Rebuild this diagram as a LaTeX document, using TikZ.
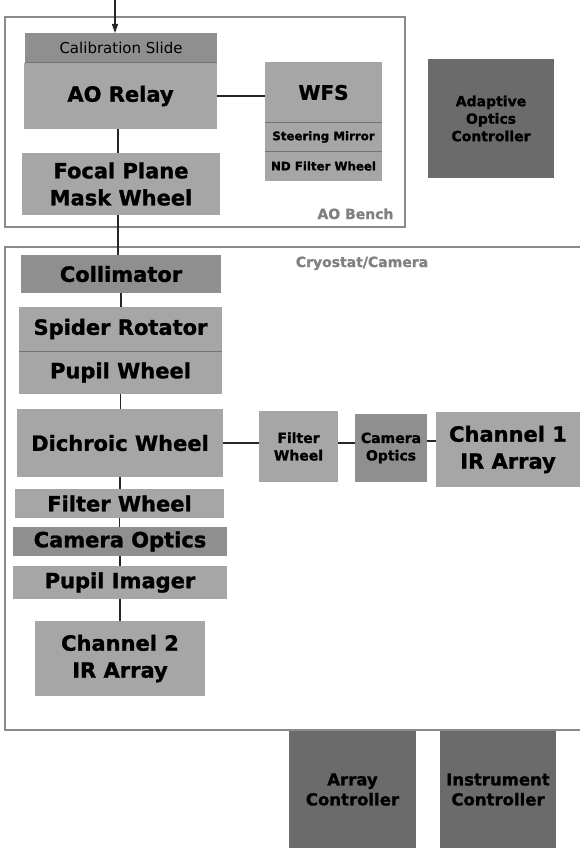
\documentclass[tikz,border=0pt]{standalone}
\usepackage{fontspec}
\setmainfont{DejaVu Sans}[BoldFeatures={FakeBold=1.2}]
\usetikzlibrary{arrows.meta, positioning, calc}
\definecolor{boxlt}{HTML}{A6A6A6}
\definecolor{boxmd}{HTML}{8F8F8F}
\definecolor{boxdk}{HTML}{6B6B6B}
\definecolor{framegray}{HTML}{8A8A8A}

\begin{document}
\begin{tikzpicture}[x=1pt, y=-1pt, >={Triangle[length=9pt,width=6pt]},
  bx/.style={inner sep=0pt, outer sep=0pt, align=center, text=black},
  lt/.style={bx, fill=boxlt},
  md/.style={bx, fill=boxmd},
  dk/.style={bx, fill=boxdk},
  bigtxt/.style={font=\fontsize{21}{27}\selectfont\bfseries},
  midtxt/.style={font=\fontsize{14}{17.5}\selectfont\bfseries},
  smtxt/.style={font=\fontsize{11.8}{14}\selectfont\bfseries},
  grtxt/.style={font=\fontsize{14}{17}\selectfont\bfseries, text=black!50},
  link/.style={draw=black!85, line width=1.5pt},
  frm/.style={draw=framegray, line width=1.8pt},
  sepline/.style={draw=black!55, line width=1pt}]
  \useasboundingbox (0,0) rectangle (580,848);

  % AO bench
  \draw[frm] (5,17) rectangle (405,227);
  \node[md, minimum width=192pt, minimum height=30pt,
    font=\fontsize{15}{18}\selectfont] (cal) at (121,48) {Calibration Slide};
  \node[lt, bigtxt, minimum width=193pt, minimum height=66pt] (relay) at (120.5,96) {AO Relay};
  \node[lt, bigtxt, minimum width=198pt, minimum height=62pt] (fpm) at (121,184) {Focal Plane\\Mask Wheel};
  \node[lt, font=\fontsize{20}{24}\selectfont\bfseries, minimum width=117pt, minimum height=61pt] (wfs) at (323.5,92.5) {WFS};
  \node[lt, smtxt, minimum width=117pt, minimum height=28pt] (steer) at (323.5,137) {Steering Mirror};
  \node[lt, smtxt, minimum width=117pt, minimum height=30pt] (ndfw) at (323.5,166) {ND Filter Wheel};
  \draw[sepline] (cal.south west) -- (cal.south east);
  \draw[sepline] (wfs.south west) -- (wfs.south east);
  \draw[sepline] (steer.south west) -- (steer.south east);
  \node[grtxt, anchor=base east] (bench) at (397,219) {AO Bench};

  \node[dk, midtxt, minimum width=126pt, minimum height=119pt] (aoc) at (491,118.5) {Adaptive\\Optics\\Controller};

  % cryostat / camera
  \draw[frm] (580,247) -- (5,247) -- (5,730) -- (580,730);
  \node[grtxt, anchor=base] (cryo) at (362,267) {Cryostat/Camera};
  \node[md, bigtxt, minimum width=200pt, minimum height=38pt] (coll) at (121,274) {Collimator};
  \node[lt, bigtxt, minimum width=203pt, minimum height=44pt] (spider) at (120.5,329) {Spider Rotator};
  \node[lt, bigtxt, minimum width=203pt, minimum height=43pt] (pupil) at (120.5,372.5) {Pupil Wheel};
  \draw[sepline] (spider.south west) -- (spider.south east);
  \node[lt, bigtxt, minimum width=206pt, minimum height=68pt] (dich) at (120,443) {Dichroic Wheel};
  \node[lt, midtxt, minimum width=79pt, minimum height=71pt] (fwa) at (298.5,446.5) {Filter\\Wheel};
  \node[md, midtxt, minimum width=72pt, minimum height=68pt] (coa) at (391,448) {Camera\\Optics};
  \node[lt, bigtxt, minimum width=144pt, minimum height=75pt] (cha) at (508,449.5) {Channel 1\\IR Array};
  \node[lt, bigtxt, minimum width=209pt, minimum height=29pt] (fwb) at (119.5,503.5) {Filter Wheel};
  \node[md, bigtxt, minimum width=214pt, minimum height=29pt] (cob) at (120,541.5) {Camera Optics};
  \node[lt, bigtxt, minimum width=214pt, minimum height=33pt] (pim) at (120,582.5) {Pupil Imager};
  \node[lt, bigtxt, minimum width=170pt, minimum height=75pt] (chb) at (120,658.5) {Channel 2\\IR Array};

  % controllers
  \node[dk, font=\fontsize{16.5}{20}\selectfont\bfseries, minimum width=127pt, minimum height=117pt] (arrc) at (352.5,789.5) {Array\\Controller};
  \node[dk, font=\fontsize{16.5}{20}\selectfont\bfseries, minimum width=116pt, minimum height=117pt] (instc) at (498,789.5) {Instrument\\Controller};

  % light path
  \coordinate (in) at (115,0);
  \draw[link, ->] (in) -- (in |- cal.north);
  \draw[link] (relay.east) -- (relay.east -| wfs.west);
  \draw[link] (118,129) -- (118,153);
  \draw[link] (118,215) -- (118,255);
  \draw[link] (coll.south) -- (coll.south |- spider.north);
  \draw[link] (pupil.south) -- (pupil.south |- dich.north);
  \draw[link] (dich.east) -- (dich.east -| fwa.west);
  \draw[link] (fwa.east |- dich.east) -- (coa.west |- dich.east);
  \draw[link] (coa.east |- 0,441) -- (cha.west |- 0,441);
  \draw[link] (dich.south) -- (dich.south |- fwb.north);
  \draw[link] (fwb.south) -- (fwb.south |- cob.north);
  \draw[link] (cob.south) -- (cob.south |- pim.north);
  \draw[link] (pim.south) -- (pim.south |- chb.north);
\end{tikzpicture}
\end{document}
